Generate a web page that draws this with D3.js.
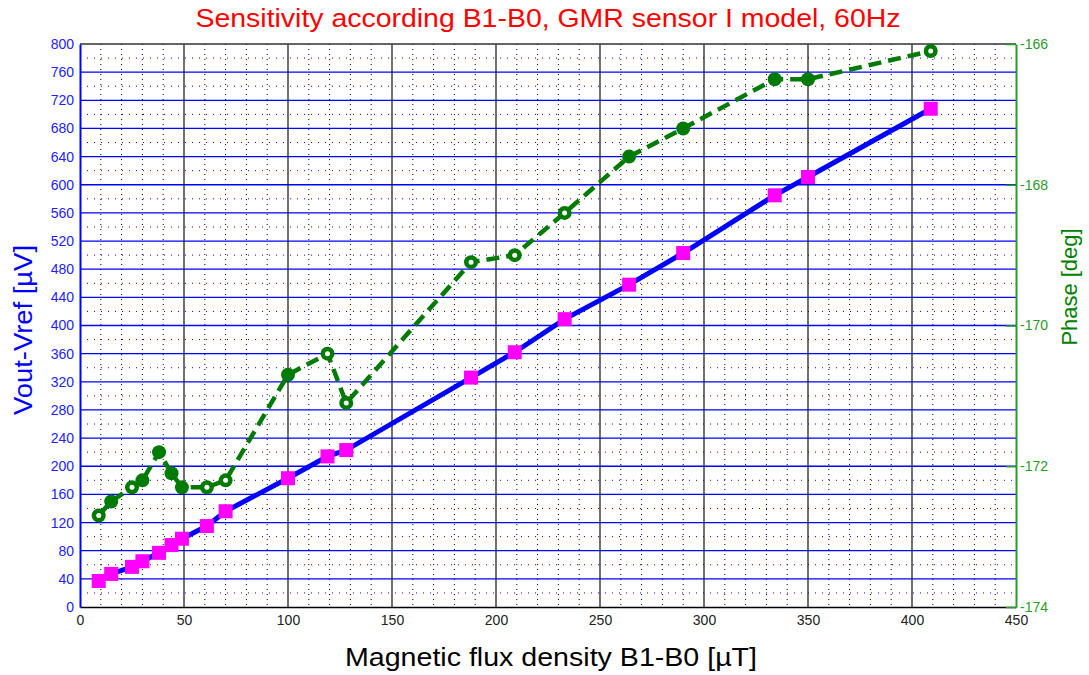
<!DOCTYPE html>
<html>
<head>
<meta charset="utf-8">
<script src="https://cdn.jsdelivr.net/npm/d3@7"></script>
<style>
  html, body { margin: 0; padding: 0; background: #fff; }
  svg { display: block; font-family: "Liberation Sans", Arial, sans-serif; }
</style>
</head>
<body>
<svg id="chart" width="1089" height="675"></svg>
<script>
// B1-B0 in µT
const flux = [9, 15, 25, 30, 38, 44, 49, 61, 70, 100, 119, 128, 188, 209, 233, 264, 290, 334, 350, 409]
// Vout-Vref in µV
const vout = [37, 47, 57, 65, 77, 88, 97, 115, 136, 183, 214, 223, 326, 362, 409, 458, 503, 585, 611, 708]
// Phase in deg
const phase = [-172.7, -172.5, -172.3, -172.2, -171.8, -172.1, -172.3, -172.3, -172.2, -170.7, -170.4, -171.1,
  -169.1, -169.0, -168.4, -167.6, -167.2, -166.5, -166.5, -166.1]
// phase points drawn with an open centre
const phaseOpen = [9, 25, 61, 70, 119, 128, 188, 209, 233, 409]

const xTicks = d3.range(0, 451, 50)
const yTicks = d3.range(0, 801, 40)
const phaseTicks = [-174, -172, -170, -168, -166]

const title = "Sensitivity according B1-B0, GMR sensor I model, 60Hz"

const svg = d3.select("#chart")
const margin = { top: 44, right: 73, bottom: 68, left: 80 }
const width = 1089 - margin.left - margin.right
const height = 675 - margin.top - margin.bottom

const x = d3.scaleLinear().domain([0, 450]).range([0, width])
const y = d3.scaleLinear().domain([0, 800]).range([height, 0])
const yr = d3.scaleLinear().domain([-174, -166]).range([height, 0])

const g = svg.append("g").attr("transform", `translate(${margin.left},${margin.top})`)

// grid: minor verticals every 10, majors every 50
const grid = g.append("g")
grid.selectAll(".vminor")
  .data(d3.range(10, 450, 10).filter(d => d % 50 !== 0))
  .enter().append("line")
  .attr("x1", d => x(d)).attr("x2", d => x(d))
  .attr("y1", 0).attr("y2", height)
  .attr("stroke", "#000").attr("stroke-width", 1)
  .attr("stroke-dasharray", "1,4")
grid.selectAll(".hminor")
  .data(d3.range(20, 800, 40))
  .enter().append("line")
  .attr("x1", 0).attr("x2", width)
  .attr("y1", d => y(d)).attr("y2", d => y(d))
  .attr("stroke", "#0000ff").attr("stroke-width", 1)
  .attr("stroke-dasharray", "1,6")
grid.selectAll(".hmajor")
  .data(yTicks.slice(1, -1))
  .enter().append("line")
  .attr("x1", 0).attr("x2", width)
  .attr("y1", d => y(d)).attr("y2", d => y(d))
  .attr("stroke", "#0000ff").attr("stroke-width", 1.3)
grid.selectAll(".vmajor")
  .data(xTicks.slice(1, -1))
  .enter().append("line")
  .attr("x1", d => x(d)).attr("x2", d => x(d))
  .attr("y1", 0).attr("y2", height)
  .attr("stroke", "#222").attr("stroke-width", 1.3)

// frame
g.append("line").attr("x1", 0).attr("x2", width).attr("y1", 0).attr("y2", 0)
  .attr("stroke", "#333").attr("stroke-width", 1.5)

// axes
const xAxis = g.append("g")
  .attr("transform", `translate(0,${height})`)
  .call(d3.axisBottom(x).tickValues(xTicks).tickSize(0).tickPadding(8))
xAxis.select(".domain").attr("stroke", "#000").attr("stroke-width", 1.5)
xAxis.selectAll("text").attr("fill", "#222").attr("font-size", 14)

const yAxis = g.append("g")
  .call(d3.axisLeft(y).tickValues(yTicks).tickSize(0).tickPadding(6))
yAxis.select(".domain").attr("stroke", "#0000ff").attr("stroke-width", 2)
yAxis.selectAll("text").attr("fill", "#2222ff").attr("font-size", 14)

const yrAxis = g.append("g")
  .attr("transform", `translate(${width},0)`)
  .call(d3.axisRight(yr).tickValues(phaseTicks).tickSize(0).tickPadding(4)
    .tickFormat(d => "-" + Math.abs(d)))
yrAxis.select(".domain").attr("stroke", "#2a9a2a").attr("stroke-width", 2)
yrAxis.selectAll("text").attr("fill", "#2a9a2a").attr("font-size", 14)
yrAxis.selectAll(".tick").append("line")
  .attr("x1", -10).attr("x2", 0).attr("stroke", "#2a9a2a").attr("stroke-width", 1.5)

// blue series
const pts = flux.map((f, i) => ({ f, v: vout[i], p: phase[i] }))
g.append("path")
  .datum(pts)
  .attr("fill", "none")
  .attr("stroke", "#0000ff")
  .attr("stroke-width", 5)
  .attr("d", d3.line().x(d => x(d.f)).y(d => y(d.v)))

// green series
g.append("path")
  .datum(pts)
  .attr("fill", "none")
  .attr("stroke", "#007a00")
  .attr("stroke-width", 4.5)
  .attr("stroke-dasharray", "13,7")
  .attr("d", d3.line().x(d => x(d.f)).y(d => yr(d.p)))

g.selectAll(".sq")
  .data(pts)
  .enter().append("rect")
  .attr("x", d => x(d.f) - 7).attr("y", d => y(d.v) - 7)
  .attr("width", 14).attr("height", 14)
  .attr("fill", "#ff00ff")

g.selectAll(".dot")
  .data(pts)
  .enter().append("circle")
  .attr("cx", d => x(d.f)).attr("cy", d => yr(d.p))
  .attr("r", 7)
  .attr("fill", "#007a00")
g.selectAll(".hole")
  .data(pts.filter(d => phaseOpen.includes(d.f)))
  .enter().append("circle")
  .attr("cx", d => x(d.f)).attr("cy", d => yr(d.p))
  .attr("r", 2.5)
  .attr("fill", "#fff")

// texts, stretched to the reference extents
svg.append("text")
  .attr("x", 548).attr("y", 27)
  .attr("text-anchor", "middle")
  .attr("font-size", 25)
  .attr("textLength", 705)
  .attr("lengthAdjust", "spacingAndGlyphs")
  .attr("fill", "#ff0000")
  .text(title)

svg.append("text")
  .attr("x", 551).attr("y", 666)
  .attr("text-anchor", "middle")
  .attr("font-size", 26)
  .attr("textLength", 412)
  .attr("lengthAdjust", "spacingAndGlyphs")
  .attr("fill", "#000")
  .text("Magnetic flux density B1-B0 [µT]")

svg.append("text")
  .attr("transform", `translate(32,330) rotate(-90)`)
  .attr("text-anchor", "middle")
  .attr("font-size", 25)
  .attr("textLength", 170)
  .attr("lengthAdjust", "spacingAndGlyphs")
  .attr("fill", "#0000ff")
  .text("Vout-Vref [µV]")

svg.append("text")
  .attr("transform", `translate(1077,287) rotate(-90)`)
  .attr("text-anchor", "middle")
  .attr("font-size", 22)
  .attr("textLength", 117)
  .attr("lengthAdjust", "spacingAndGlyphs")
  .attr("fill", "#008000")
  .text("Phase [deg]")
</script>
</body>
</html>
